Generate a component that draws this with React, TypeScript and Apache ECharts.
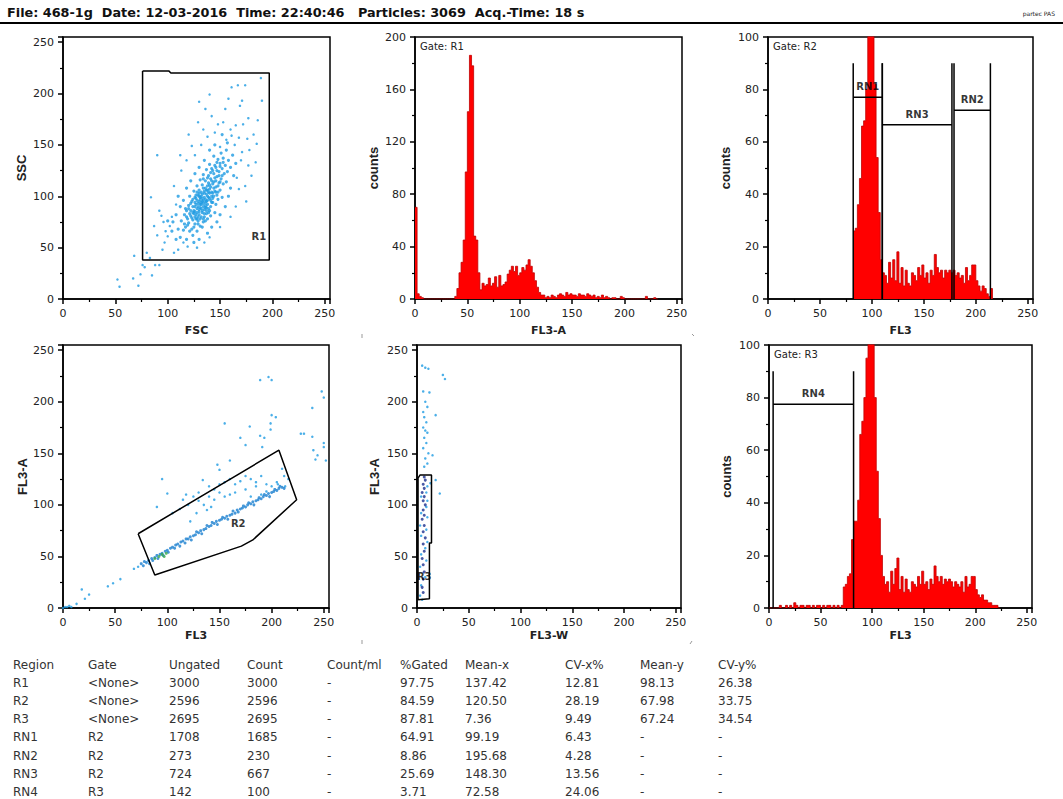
import React, { useEffect, useRef } from 'react';
import * as echarts from 'echarts';

// ---------- header ----------
const headerText = 'File: 468-1g  Date: 12-03-2016  Time: 22:40:46   Particles: 3069  Acq.-Time: 18 s';
const brandText = 'partec PAS';
const gateTitles = ['Gate: R1', 'Gate: R2', 'Gate: R3'];

// ---------- histograms (2-channel bins) ----------
const BIN = 2;
const fl3aStart = 0;
const fl3aCounts = [70, 4, 2, 1, 0, 0, 0, 0, 0, 0, 0, 0, 0, 0, 0, 0, 0, 0, 0, 2, 8, 20, 28, 45, 97, 143, 186, 178, 48, 45, 20, 7, 12, 10, 11, 16, 10, 12, 17, 9, 18, 10, 11, 13, 19, 22, 25, 21, 25, 18, 20, 24, 22, 26, 30, 25, 20, 14, 9, 5, 3, 3, 1, 2, 1, 3, 2, 1, 3, 4, 3, 2, 5, 3, 4, 3, 3, 2, 4, 3, 3, 2, 4, 3, 2, 3, 1, 2, 1, 3, 1, 2, 1, 0, 1, 1, 0, 0, 2, 1, 0, 0, 0, 0, 0, 0, 0, 0, 0, 0, 2, 0, 0, 0, 1, 0];
const fl3R2Start = 82;
const fl3R2Counts = [26, 27, 36, 46, 66, 68, 80, 108, 125, 120, 82, 54, 33, 15, 10, 9, 6, 14, 8, 15, 7, 18, 6, 12, 5, 11, 6, 5, 10, 9, 7, 12, 9, 13, 8, 10, 6, 11, 9, 17, 12, 10, 11, 8, 11, 10, 11, 10, 11, 9, 10, 8, 9, 6, 12, 7, 9, 13, 13, 7, 5, 3, 5, 4, 2, 1, 4];
const fl3R3Start = 0;
const fl3R3Counts = [0, 0, 0, 0, 0, 1, 0, 0, 1, 0, 1, 0, 2, 1, 0, 1, 1, 0, 1, 1, 0, 1, 0, 1, 1, 0, 1, 0, 1, 1, 0, 1, 0, 1, 0, 1, 8, 9, 12, 13, 26, 33, 33, 41, 66, 71, 80, 95, 110, 125, 120, 80, 52, 34, 20, 12, 9, 10, 6, 14, 9, 15, 19, 7, 12, 6, 11, 7, 6, 10, 9, 8, 12, 9, 14, 9, 10, 7, 11, 9, 16, 12, 10, 12, 9, 11, 10, 11, 10, 8, 10, 9, 8, 10, 6, 12, 8, 9, 12, 12, 7, 5, 4, 5, 3, 3, 2, 2, 1, 1, 1, 0];

// ---------- scatter: FSC vs SSC ----------
const fscSscCore = [
  [112, 60], [118, 58], [124, 62], [121, 66], [115, 67], [110, 68], [117, 70], [123, 68], [128, 66], [131, 71], [120, 74], [126, 73],
  [113, 76], [119, 78], [124, 77], [129, 76], [134, 75], [138, 78], [116, 82], [122, 81], [127, 82], [132, 80], [137, 83], [141, 81],
  [118, 86], [125, 86], [130, 85], [135, 87], [140, 86], [145, 84], [120, 91], [126, 90], [131, 92], [136, 91], [141, 90], [146, 92],
  [123, 95], [128, 96], [133, 95], [138, 96], [143, 94], [148, 97], [121, 100], [127, 101], [132, 100], [137, 102], [142, 100], [147, 101], [152, 99],
  [125, 105], [130, 106], [135, 105], [140, 107], [145, 105], [150, 106], [128, 110], [133, 111], [138, 110], [143, 112], [148, 110], [153, 112],
  [131, 116], [136, 115], [141, 117], [146, 115], [151, 117], [156, 114], [134, 121], [139, 120], [144, 122], [149, 120], [154, 122],
  [137, 126], [142, 127], [147, 125], [152, 127], [157, 124], [140, 131], [145, 130], [150, 132], [155, 130], [148, 136], [153, 137], [158, 135], [144, 139], [151, 142], [156, 145],
  [105, 75], [108, 82], [112, 90], [115, 96], [110, 100], [118, 108], [122, 115], [126, 122], [130, 128], [135, 135], [140, 145], [145, 150], [160, 128], [163, 120], [160, 108], [158, 100], [155, 90], [150, 82], [147, 75], [142, 70], [138, 64], [130, 58], [125, 55], [162, 140], [165, 132], [157, 152], [152, 160], [100, 76], [104, 66], [108, 58],
  [132, 88], [134, 93], [136, 97], [129, 93], [139, 99], [133, 102], [137, 89], [131, 97], [128, 88], [126, 94], [140, 103], [144, 108], [141, 96], [138, 92], [135, 99], [130, 103], [127, 98], [124, 90], [122, 86], [139, 113], [142, 104], [136, 108], [134, 117], [145, 118],
  [129, 80], [133, 84], [127, 78], [135, 80], [131, 89], [143, 98], [146, 104], [149, 113], [138, 118], [141, 123], [136, 94], [134, 90], [132, 92], [130, 95], [137, 95], [139, 88], [125, 83], [123, 79], [119, 72], [116, 73],
  [126, 85], [128, 84], [130, 87], [133, 86], [135, 83], [137, 86], [139, 84], [127, 92], [129, 90], [132, 94], [134, 96], [136, 89], [138, 100], [140, 98], [142, 94], [144, 100],
  [131, 99], [133, 98], [129, 101], [135, 103], [137, 106], [139, 104], [141, 109], [143, 103], [134, 108], [132, 104], [130, 100], [128, 104], [126, 99], [124, 97], [122, 93],
  [120, 88], [121, 83], [124, 84], [126, 80], [128, 78], [130, 82], [134, 78], [136, 76], [131, 78], [129, 73], [133, 70], [125, 70], [118, 80], [117, 88], [146, 109], [148, 104],
  [150, 114], [147, 119], [144, 114], [142, 115], [140, 111], [138, 106], [152, 120], [149, 124], [146, 128], [143, 125], [150, 129], [153, 133], [147, 133]
];
const fscSscSparse = [
  [52, 19], [54, 12], [67, 20], [72, 13], [74, 24], [68, 42], [76, 33], [85, 23], [78, 31], [88, 33], [92, 33], [84, 99], [90, 140], [130, 192], [140, 199],
  [161, 206], [167, 208], [174, 208], [189, 215], [190, 193], [171, 193], [169, 188], [186, 174], [177, 176], [185, 151], [184, 133], [177, 130], [153, 172],
  [148, 170], [165, 169], [129, 172], [134, 165], [123, 149], [161, 159], [168, 157], [176, 156], [171, 143], [166, 118], [174, 110], [168, 107], [106, 110],
  [102, 71], [92, 86], [94, 81], [100, 61], [106, 45], [97, 55], [87, 71], [115, 55], [119, 51], [80, 45], [83, 40], [95, 48], [110, 48], [98, 66], [104, 80],
  [96, 75], [90, 62], [108, 92], [113, 125], [118, 135], [126, 140], [132, 150], [138, 158], [145, 162], [150, 148], [156, 155], [160, 165], [172, 170],
  [182, 160], [178, 145], [170, 135], [164, 150], [142, 178], [136, 185], [155, 185], [158, 195], [120, 160], [112, 140], [180, 120], [175, 95], [165, 90],
  [160, 80], [150, 70], [140, 60], [128, 50], [135, 55]
];

// ---------- scatter: FL3 vs FL3-A ----------
const fl3DiagLine = [
  [75, 43], [77, 41], [78, 45], [80, 44], [82, 46], [83, 43], [85, 48], [86, 46], [88, 49], [90, 51], [91, 48], [93, 52], [95, 53], [96, 51], [98, 55], [100, 56],
  [101, 54], [103, 58], [105, 59], [107, 58], [108, 61], [110, 62], [112, 60], [113, 64], [115, 65], [117, 63], [118, 67], [120, 67], [122, 69], [123, 66],
  [125, 70], [127, 71], [128, 74], [130, 73], [132, 75], [133, 72], [135, 76], [137, 77], [138, 80], [140, 79], [142, 80], [143, 83], [145, 82], [147, 84],
  [148, 81], [150, 85], [152, 86], [153, 88], [155, 87], [157, 89], [158, 86], [160, 90], [162, 91], [163, 94], [165, 92], [167, 95], [168, 93], [170, 96],
  [172, 97], [173, 99], [175, 98], [177, 100], [178, 102], [180, 101], [182, 103], [183, 100], [185, 104], [187, 105], [188, 107], [190, 106], [192, 108],
  [193, 110], [195, 109], [197, 111], [198, 108], [200, 112], [202, 113], [203, 115], [205, 114], [207, 116], [208, 118], [210, 117], [212, 116]
];
const fl3DiagGreen = [[88, 48], [92, 50], [95, 52], [97, 50], [99, 53]];
const fl3DiagSparse = [
  [0, 0], [2, 1], [4, 1], [6, 2], [8, 1], [13, 4], [18, 18], [21, 9], [25, 13], [43, 21], [48, 24], [55, 28], [68, 38], [72, 40],
  [95, 125], [100, 111], [90, 98], [118, 110], [125, 108], [120, 100], [112, 96], [105, 92], [115, 105], [130, 112], [134, 124], [135, 100], [140, 118],
  [140, 108], [145, 115], [145, 105], [148, 139], [150, 134], [150, 120], [150, 112], [155, 122], [155, 108], [155, 179], [160, 125], [160, 143], [160, 110],
  [165, 120], [165, 112], [170, 123], [170, 165], [175, 128], [175, 158], [175, 115], [179, 176], [180, 125], [180, 108], [185, 122], [185, 118], [189, 167],
  [189, 221], [190, 128], [190, 110], [191, 156], [193, 165], [195, 120], [195, 113], [197, 224], [199, 173], [199, 179], [200, 221], [200, 187], [200, 118],
  [204, 185], [205, 122], [206, 120], [210, 135], [212, 128], [213, 118], [216, 125], [228, 169], [231, 169], [239, 194], [239, 166], [240, 153], [242, 144],
  [244, 148], [248, 210], [250, 204], [250, 160], [250, 156], [252, 143], [130, 104], [138, 95], [142, 98], [128, 92], [122, 84]
];

// ---------- scatter: FL3-W vs FL3-A ----------
const fl3wDense = [[6, 28], [7, 35], [6, 42], [5, 48], [7, 55], [6, 62], [8, 68], [6, 74], [7, 80], [5, 86], [7, 90], [6, 95], [8, 100], [6, 104], [7, 108], [5, 112], [7, 116], [6, 120], [8, 124], [7, 127], [5, 20], [6, 15]];
const fl3wSparse = [
  [5, 235], [8, 233], [11, 232], [6, 210], [12, 209], [8, 200], [10, 195], [6, 190], [7, 185], [18, 187], [9, 180], [6, 175], [8, 172], [10, 170], [7, 165],
  [9, 160], [6, 155], [11, 150], [15, 148], [8, 145], [10, 140], [7, 137], [25, 226], [27, 222], [22, 111], [18, 124], [13, 121], [10, 118], [9, 112],
  [4, 108], [10, 104], [9, 98], [4, 92], [10, 88], [3, 80], [9, 76], [4, 70], [10, 64], [8, 58], [4, 52], [9, 46], [3, 40], [8, 30], [4, 22], [3, 12], [5, 8]
];

// ---------- gates & markers ----------
const gateR1 = [[76, 222], [101, 222], [103, 220], [197, 220], [197, 38], [76, 38], [76, 222]];
const gateR2 = [[72, 72], [207, 153], [224, 105], [182, 66], [171, 60], [88, 32], [72, 72]];
const gateR3 = [[1, 8], [1, 126], [3, 129], [14, 129], [14, 63], [12, 63], [12, 9], [1, 8]];
const gateLabels = [{ name: 'R1', x: 187, y: 61 }, { name: 'R2', x: 168, y: 82 }, { name: 'R3', x: 7, y: 31 }];
const markerTop = 90;
const markersR2 = [
  { name: 'RN1', x0: 82, x1: 110, y: 77 },
  { name: 'RN3', x0: 110, x1: 177, y: 66.5 },
  { name: 'RN2', x0: 179, x1: 214, y: 72 }
];
const markersR3 = [{ name: 'RN4', x0: 4, x1: 82, y: 77.5 }];

// ---------- statistics table ----------
const tableHeader = ['Region', 'Gate', 'Ungated', 'Count', 'Count/ml', '%Gated', 'Mean-x', 'CV-x%', 'Mean-y', 'CV-y%'];
const tableRegion = ['R1', 'R2', 'R3', 'RN1', 'RN2', 'RN3', 'RN4'];
const tableGate = ['<None>', '<None>', '<None>', 'R2', 'R2', 'R2', 'R3'];
const tableUngated = ['3000', '2596', '2695', '1708', '273', '724', '142'];
const tableCount = ['3000', '2596', '2695', '1685', '230', '667', '100'];
const tableCountMl = ['-', '-', '-', '-', '-', '-', '-'];
const tablePctGated = ['97.75', '84.59', '87.81', '64.91', '8.86', '25.69', '3.71'];
const tableMeanX = ['137.42', '120.50', '7.36', '99.19', '195.68', '148.30', '72.58'];
const tableCvX = ['12.81', '28.19', '9.49', '6.43', '4.28', '13.56', '24.06'];
const tableMeanY = ['98.13', '67.98', '67.24', '-', '-', '-', '-'];
const tableCvY = ['26.38', '33.75', '34.54', '-', '-', '-', '-'];

const BLUE = '#1e9be2';
const FONT = 'DejaVu Sans';

function histData(start: number, counts: number[]) {
  const d = counts.map((c, i) => [start + i * BIN, c]);
  d.push([start + counts.length * BIN, 0]);
  return d;
}

export default function App() {
  const ref = useRef<HTMLDivElement>(null);
  useEffect(() => {
    if (!ref.current) return;
    const chart = echarts.init(ref.current, null, { renderer: 'svg' });

    const grids = [
      { left: 63, top: 37, width: 267, height: 262 },
      { left: 415, top: 37, width: 267, height: 262 },
      { left: 768, top: 37, width: 265, height: 262 },
      { left: 63, top: 345, width: 266, height: 263 },
      { left: 417, top: 345, width: 264, height: 263 },
      { left: 769, top: 345, width: 263, height: 263 }
    ].map((g) => ({ ...g, show: true, borderColor: '#000', borderWidth: 1.5, backgroundColor: 'transparent' }));

    const axisCommon = {
      axisLine: { show: true, onZero: false, lineStyle: { color: '#000', width: 1.5 } },
      axisTick: { show: true, length: 5, lineStyle: { color: '#000', width: 1.5 } },
      minorTick: { show: true, splitNumber: 2, length: 3, lineStyle: { color: '#000', width: 1.2 } },
      splitLine: { show: false }
    };
    const mkX = (gi: number, name: string, gap: number) => ({
      type: 'value', gridIndex: gi, min: 0, max: 255, interval: 50, name, nameLocation: 'middle', nameGap: gap,
      nameTextStyle: { fontFamily: FONT, fontWeight: 'bold', fontSize: 11, color: '#222' },
      ...axisCommon,
      axisLabel: { fontFamily: FONT, fontSize: 11, color: '#222', margin: 9, formatter: (v: number) => (v % 50 === 0 ? String(v) : '') }
    });
    const mkY = (gi: number, name: string, max: number, interval: number, gap: number) => ({
      type: 'value', gridIndex: gi, min: 0, max, interval, name, nameLocation: 'middle', nameGap: gap,
      nameTextStyle: { fontFamily: 'Liberation Sans', fontWeight: 'bold', fontSize: 13, color: '#222' },
      ...axisCommon,
      axisLabel: { fontFamily: FONT, fontSize: 11, color: '#222', margin: 9, formatter: (v: number) => (v % interval === 0 ? String(v) : '') }
    });

    const xAxes = [mkX(0, 'FSC', 26), mkX(1, 'FL3-A', 26), mkX(2, 'FL3', 26), mkX(3, 'FL3', 22), mkX(4, 'FL3-W', 22), mkX(5, 'FL3', 22)];
    const yAxes = [mkY(0, 'SSC', 255, 50, 35), mkY(1, 'counts', 200, 40, 35), mkY(2, 'counts', 100, 20, 36), mkY(3, 'FL3-A', 255, 50, 30), mkY(4, 'FL3-A', 255, 50, 36), mkY(5, 'counts', 100, 20, 36)];

    const scatter = (gi: number, data: number[][], color: string, size = 2.5) => ({
      type: 'scatter', xAxisIndex: gi, yAxisIndex: gi, data, symbolSize: size, itemStyle: { color }, silent: true, z: 2
    });
    const seg = (gi: number, data: number[][], w = 1.5) => ({
      type: 'line', xAxisIndex: gi, yAxisIndex: gi, data, symbol: 'none', lineStyle: { color: '#000', width: w }, silent: true, z: 5
    });
    const tag = (gi: number, x: number, y: number, text: string) => ({
      type: 'scatter', xAxisIndex: gi, yAxisIndex: gi, data: [[x, y]], symbolSize: 1, itemStyle: { color: 'rgba(0,0,0,0)' }, silent: true, z: 6,
      label: { show: true, position: 'inside', formatter: text, color: '#000', fontWeight: 'bold', fontSize: 10, fontFamily: FONT }
    });
    const hist = (gi: number, start: number, counts: number[]) => ({
      type: 'line', xAxisIndex: gi, yAxisIndex: gi, data: histData(start, counts), step: 'end', symbol: 'none',
      lineStyle: { color: '#c00000', width: 0.8 }, areaStyle: { color: '#ff0000', opacity: 1 }, silent: true, z: 3
    });
    const markerSeries = (gi: number, ms: { name: string; x0: number; x1: number; y: number }[]) => {
      const out: any[] = [];
      ms.forEach((m) => {
        out.push(seg(gi, [[m.x0, 0], [m.x0, markerTop]]));
        out.push(seg(gi, [[m.x1, 0], [m.x1, markerTop]]));
        out.push(seg(gi, [[m.x0, m.y], [m.x1, m.y]]));
        out.push(tag(gi, (m.x0 + m.x1) / 2, m.y + 4, m.name));
      });
      return out;
    };

    const series: any[] = [
      scatter(0, fscSscCore, BLUE, 3.2),
      scatter(0, fscSscSparse, BLUE),
      seg(0, gateR1),
      tag(0, gateLabels[0].x, gateLabels[0].y, gateLabels[0].name),
      hist(1, fl3aStart, fl3aCounts),
      hist(2, fl3R2Start, fl3R2Counts),
      ...markerSeries(2, markersR2),
      scatter(3, fl3DiagSparse, BLUE),
      scatter(3, fl3DiagLine, '#1a7fd0', 3),
      scatter(3, fl3DiagGreen, '#3aa84a', 3),
      seg(3, gateR2),
      tag(3, gateLabels[1].x, gateLabels[1].y, gateLabels[1].name),
      scatter(4, fl3wSparse, BLUE),
      scatter(4, fl3wDense, '#1b2f8f', 3),
      seg(4, gateR3),
      tag(4, gateLabels[2].x, gateLabels[2].y, gateLabels[2].name),
      hist(5, fl3R3Start, fl3R3Counts),
      ...markerSeries(5, markersR3)
    ];

    const columnsX = [13, 88, 169, 247, 327, 400, 465, 565, 640, 718];
    const columns = [tableRegion, tableGate, tableUngated, tableCount, tableCountMl, tablePctGated, tableMeanX, tableCvX, tableMeanY, tableCvY];
    const rowY = (i: number) => 665 + i * 18.1;
    const tableTexts: any[] = [];
    tableHeader.forEach((h, c) => {
      tableTexts.push({ type: 'text', x: columnsX[c], y: rowY(0), style: { text: h, fill: '#333', font: `12px "${FONT}"`, textVerticalAlign: 'middle' } });
    });
    columns.forEach((col, c) => {
      col.forEach((v, r) => {
        tableTexts.push({ type: 'text', x: columnsX[c], y: rowY(r + 1), style: { text: v, fill: '#333', font: `12px "${FONT}"`, textVerticalAlign: 'middle' } });
      });
    });

    const gateTextPos = [[420, 46], [773, 46], [774, 354]];
    const corner = (x1: number, y1: number, x2: number, y2: number) => ({ type: 'line', shape: { x1, y1, x2, y2 }, style: { stroke: '#999', lineWidth: 1 } });

    const graphic: any[] = [
      { type: 'text', x: 7, y: 12, style: { text: headerText, fill: '#111', font: `bold 12.8px "${FONT}"`, textVerticalAlign: 'middle' } },
      { type: 'text', x: 1055, y: 13, style: { text: brandText, fill: '#222', font: `6px "${FONT}"`, textAlign: 'right', textVerticalAlign: 'middle' } },
      { type: 'line', shape: { x1: 0, y1: 23, x2: 1063, y2: 23 }, style: { stroke: '#000', lineWidth: 2 } },
      ...gateTitles.map((t, i) => ({ type: 'text', x: gateTextPos[i][0], y: gateTextPos[i][1], z: 10, style: { text: t, fill: '#222', font: `10px "${FONT}"`, textVerticalAlign: 'middle' } })),
      corner(362, 334, 362, 338), corner(692, 334, 694, 336), corner(362, 640, 362, 644), corner(692, 641, 690, 644),
      ...tableTexts
    ];

    chart.setOption({
      animation: false,
      backgroundColor: '#fff',
      grid: grids,
      xAxis: xAxes,
      yAxis: yAxes,
      series,
      graphic
    });
    return () => chart.dispose();
  }, []);

  return <div ref={ref} style={{ position: 'fixed', left: 0, top: 0, width: 1063, height: 799, background: '#fff' }} />;
}
